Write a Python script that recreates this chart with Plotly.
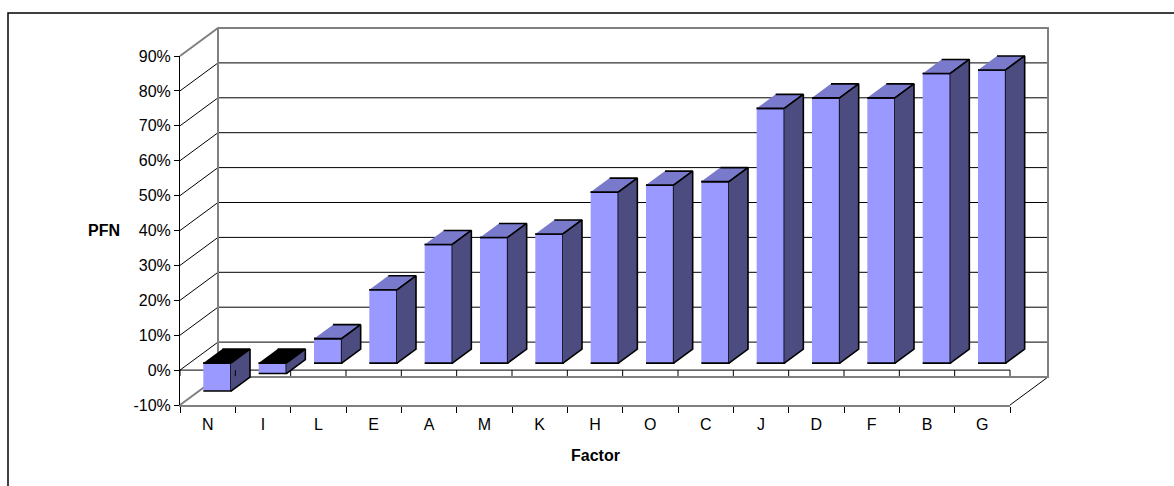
import plotly.graph_objects as go

# ---- data -------------------------------------------------------------
FACTORS = ["N", "I", "L", "E", "A", "M", "K", "H", "O", "C", "J", "D", "F", "B", "G"]
PFN = [-8, -3, 7, 21, 34, 36, 37, 49, 51, 52, 73, 76, 76, 83, 84]

Y_TICKS = [-10, 0, 10, 20, 30, 40, 50, 60, 70, 80, 90]
Y_TICK_TEXT = [f"{t}%" for t in Y_TICKS]

# ---- layout constants -------------------------------------------------
W, H = 1174, 486
FONT = "Arial, Liberation Sans, sans-serif"

LEFT_PX, RIGHT_PX = 180, 1010      # front plane, horizontal extent
TOP_PX, BOTTOM_PX = 56, 405        # front plane, top (90%) and floor (-10%)
Y_MIN, Y_MAX = Y_TICKS[0], Y_TICKS[-1]
DEPTH_PX = (38, -28)               # oblique offset from front plane to back wall

BAR_W = 0.5                        # bar width, in category units
BAR_Z = (0.25, 0.75)               # bar depth span (0 = front, 1 = back wall)

FRONT_C = "#9999FF"
TOP_C = "#7A7ACC"
SIDE_C = "#4C4C80"
EDGE_GRAY = "#808080"

n = len(FACTORS)
cat_px = (RIGHT_PX - LEFT_PX) / n
pct_px = (BOTTOM_PX - TOP_PX) / (Y_MAX - Y_MIN)

x_dom = [LEFT_PX / W, RIGHT_PX / W]
y_dom = [1 - BOTTOM_PX / H, 1 - TOP_PX / H]

# full-figure drawing axes sharing the units of the front axes
x_rng = [-0.5 - LEFT_PX / cat_px, -0.5 + (W - LEFT_PX) / cat_px]
y_rng = [Y_MIN - (H - BOTTOM_PX) / pct_px, Y_MAX + TOP_PX / pct_px]
DX = DEPTH_PX[0] / cat_px
DY = -DEPTH_PX[1] / pct_px

XL, XR = -0.5, n - 0.5


def P(x, y, z):
    """Oblique projection of (category, value, depth) onto the drawing axes."""
    return x + z * DX, y + z * DY


def add_seg(xs, ys, pts):
    for p in pts:
        xs.append(p[0])
        ys.append(p[1])
    xs.append(None)
    ys.append(None)


fig = go.Figure()


def line_trace(xs, ys, color, width):
    fig.add_trace(go.Scatter(x=xs, y=ys, mode="lines",
                             line=dict(color=color, width=width),
                             hoverinfo="skip", showlegend=False))


def poly_trace(xs, ys, color):
    fig.add_trace(go.Scatter(x=xs, y=ys, mode="lines", fill="toself",
                             fillcolor=color,
                             line=dict(color="black", width=1.6),
                             hoverinfo="skip", showlegend=False))


# ---- walls: gridlines ----------------------------------------------------
gx, gy = [], []
for v in Y_TICKS[1:-1]:
    add_seg(gx, gy, [P(XL, v, 0), P(XL, v, 1), P(XR, v, 1)])
add_seg(gx, gy, [P(XR, Y_MIN, 0), P(XR, Y_MIN, 1)])
line_trace(gx, gy, "black", 1)

# ---- walls: outer edges --------------------------------------------------
ex, ey = [], []
add_seg(ex, ey, [P(XL, Y_MAX, 0), P(XL, Y_MAX, 1), P(XR, Y_MAX, 1),
                 P(XR, Y_MIN, 1), P(XL, Y_MIN, 1), P(XL, Y_MIN, 0)])
add_seg(ex, ey, [P(XL, Y_MAX, 1), P(XL, Y_MIN, 1)])
line_trace(ex, ey, EDGE_GRAY, 2)

# ---- category axis at 0% -------------------------------------------------
zx, zy = [], []
add_seg(zx, zy, [P(XL, 0, 0), P(XR, 0, 0)])
line_trace(zx, zy, "black", 1)

# ---- bars ----------------------------------------------------------------
fx, fy, tx, ty, nx, ny, sx, sy = [], [], [], [], [], [], [], []
z0, z1 = BAR_Z
for i, v in enumerate(PFN):
    x0, x1 = i - BAR_W / 2, i + BAR_W / 2
    lo, hi = min(0, v), max(0, v)
    add_seg(fx, fy, [P(x0, lo, z0), P(x1, lo, z0), P(x1, hi, z0), P(x0, hi, z0)])
    top = [P(x0, hi, z0), P(x1, hi, z0), P(x1, hi, z1), P(x0, hi, z1)]
    if v >= 0:
        add_seg(tx, ty, top)
    else:
        add_seg(nx, ny, top)
    add_seg(sx, sy, [P(x1, lo, z0), P(x1, lo, z1), P(x1, hi, z1), P(x1, hi, z0)])

poly_trace(fx, fy, FRONT_C)
poly_trace(tx, ty, TOP_C)
poly_trace(nx, ny, "black")
poly_trace(sx, sy, SIDE_C)

# tick marks hanging from the 0% category line
kx, ky = [], []
tick_len = 6 / pct_px
for k in range(n + 1):
    add_seg(kx, ky, [P(XL + k, 0, 0), P(XL + k, -tick_len, 0)])
line_trace(kx, ky, "black", 1)

# ---- front axes (labels, floor edge, value axis) --------------------------
fig.add_trace(go.Scatter(x=FACTORS, y=PFN, xaxis="x2", yaxis="y2",
                         mode="markers", marker=dict(opacity=0),
                         hoverinfo="skip", showlegend=False))

fig.update_layout(
    width=W, height=H,
    autosize=False,
    margin=dict(l=0, r=0, t=0, b=0, pad=0, autoexpand=False),
    paper_bgcolor="white", plot_bgcolor="rgba(0,0,0,0)",
    showlegend=False,
    font=dict(family=FONT, size=16, color="black"),
    xaxis=dict(domain=[0, 1], range=x_rng, visible=False, fixedrange=True),
    yaxis=dict(domain=[0, 1], range=y_rng, visible=False, fixedrange=True),
    xaxis2=dict(domain=x_dom, anchor="y2", type="category",
                categoryorder="array", categoryarray=FACTORS,
                range=[-0.5, n - 0.5], tickson="boundaries",
                ticks="outside", ticklen=6, tickwidth=1, tickcolor="black",
                ticklabelstandoff=4,
                showline=True, linecolor=EDGE_GRAY, linewidth=2,
                showgrid=False, zeroline=False, fixedrange=True,
                tickfont=dict(family=FONT, size=16, color="black")),
    yaxis2=dict(domain=y_dom, anchor="x2", range=[Y_MIN, Y_MAX],
                tickmode="array", tickvals=Y_TICKS, ticktext=Y_TICK_TEXT,
                ticks="outside", ticklen=5, tickwidth=1, tickcolor="black",
                showline=True, linecolor="black", linewidth=1,
                showgrid=False, zeroline=False, fixedrange=True,
                tickfont=dict(family=FONT, size=16, color="black")),
    annotations=[
        dict(text="<b>PFN</b>", xref="x2 domain", yref="y2 domain",
             x=(104 - LEFT_PX) / (RIGHT_PX - LEFT_PX), y=0.5,
             xanchor="center", yanchor="middle", showarrow=False,
             font=dict(family=FONT, size=16, color="black")),
        dict(text="<b>Factor</b>", xref="x2 domain", yref="y2 domain",
             x=0.5, y=-(455 - BOTTOM_PX) / (BOTTOM_PX - TOP_PX),
             xanchor="center", yanchor="middle", showarrow=False,
             font=dict(family=FONT, size=16, color="black")),
    ],
    shapes=[dict(type="rect", xref="paper", yref="paper",
                 x0=8 / W, x1=1.05, y0=-0.05, y1=1 - 13 / H,
                 line=dict(color="black", width=1.5), fillcolor="rgba(0,0,0,0)",
                 layer="above")],
)

fig.write_html("out.html")
